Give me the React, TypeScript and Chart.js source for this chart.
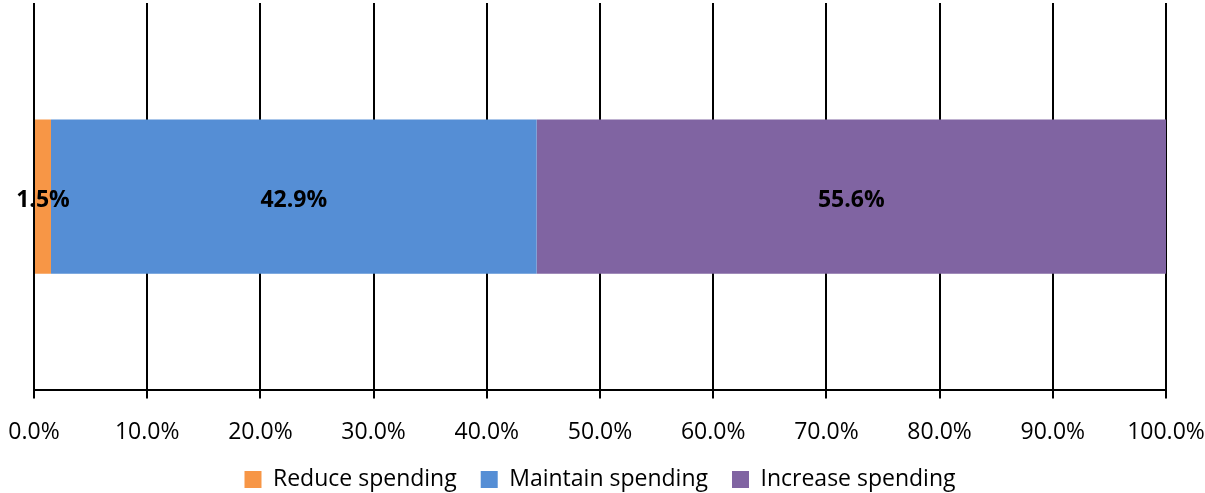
import React, { useEffect, useRef } from "react";
import { Chart, registerables } from "chart.js";

Chart.register(...registerables);

const categories = ["Spending"];
const reduceValues = [1.5];
const maintainValues = [42.9];
const increaseValues = [55.6];
const tickValues = [0, 10, 20, 30, 40, 50, 60, 70, 80, 90, 100];

const FONT = "'Open Sans', 'Liberation Sans', sans-serif";

const labelPlugin = {
  id: "segmentLabels",
  afterDatasetsDraw(chart: any) {
    const ctx = chart.ctx;
    ctx.save();
    ctx.font = `bold 23px ${FONT}`;
    ctx.fillStyle = "#000";
    ctx.textAlign = "center";
    ctx.textBaseline = "middle";
    chart.data.datasets.forEach((ds: any, i: number) => {
      const meta = chart.getDatasetMeta(i);
      meta.data.forEach((el: any, j: number) => {
        const p = el.getCenterPoint();
        ctx.fillText(Number(ds.data[j]).toFixed(1) + "%", p.x, p.y + 4);
      });
    });
    ctx.restore();
  },
};

export default function App() {
  const ref = useRef<HTMLCanvasElement>(null);
  useEffect(() => {
    document.body.style.margin = "0";
    const chart = new Chart(ref.current!, {
      type: "bar",
      data: {
        labels: categories,
        datasets: [
          { label: "Reduce spending", data: reduceValues, backgroundColor: "#F79646" },
          { label: "Maintain spending", data: maintainValues, backgroundColor: "#558ED5" },
          { label: "Increase spending", data: increaseValues, backgroundColor: "#8064A2" },
        ],
      },
      options: {
        indexAxis: "y",
        responsive: false,
        animation: false,
        layout: { padding: { left: 34, right: 39, top: 3, bottom: -8 } },
        datasets: {
          bar: { barPercentage: 1, categoryPercentage: 0.398, borderWidth: 0 },
        },
        scales: {
          x: {
            stacked: true,
            min: 0,
            max: 100,
            afterBuildTicks: (axis: any) => {
              axis.ticks = tickValues.map((v) => ({ value: v }));
            },
            afterFit: (axis: any) => {
              axis.paddingLeft = 0;
              axis.paddingRight = 0;
              axis.height -= 22;
            },
            ticks: {
              color: "#000",
              font: { family: FONT, size: 23 },
              padding: 20,
              maxRotation: 0,
              callback: (v: any) => Number(v).toFixed(1) + "%",
            },
            grid: { color: "#000", lineWidth: 2, tickLength: 8, drawTicks: true },
            border: { display: true, color: "#000", width: 2 },
          },
          y: {
            stacked: true,
            display: false,
          },
        },
        plugins: {
          legend: {
            position: "bottom",
            labels: {
              color: "#000",
              font: { family: FONT, size: 23 },
              boxWidth: 17,
              boxHeight: 17,
              padding: 24,
            },
          },
          tooltip: { enabled: false },
        },
      },
      plugins: [labelPlugin],
    });
    return () => chart.destroy();
  }, []);
  return <canvas ref={ref} width={1205} height={493} />;
}
